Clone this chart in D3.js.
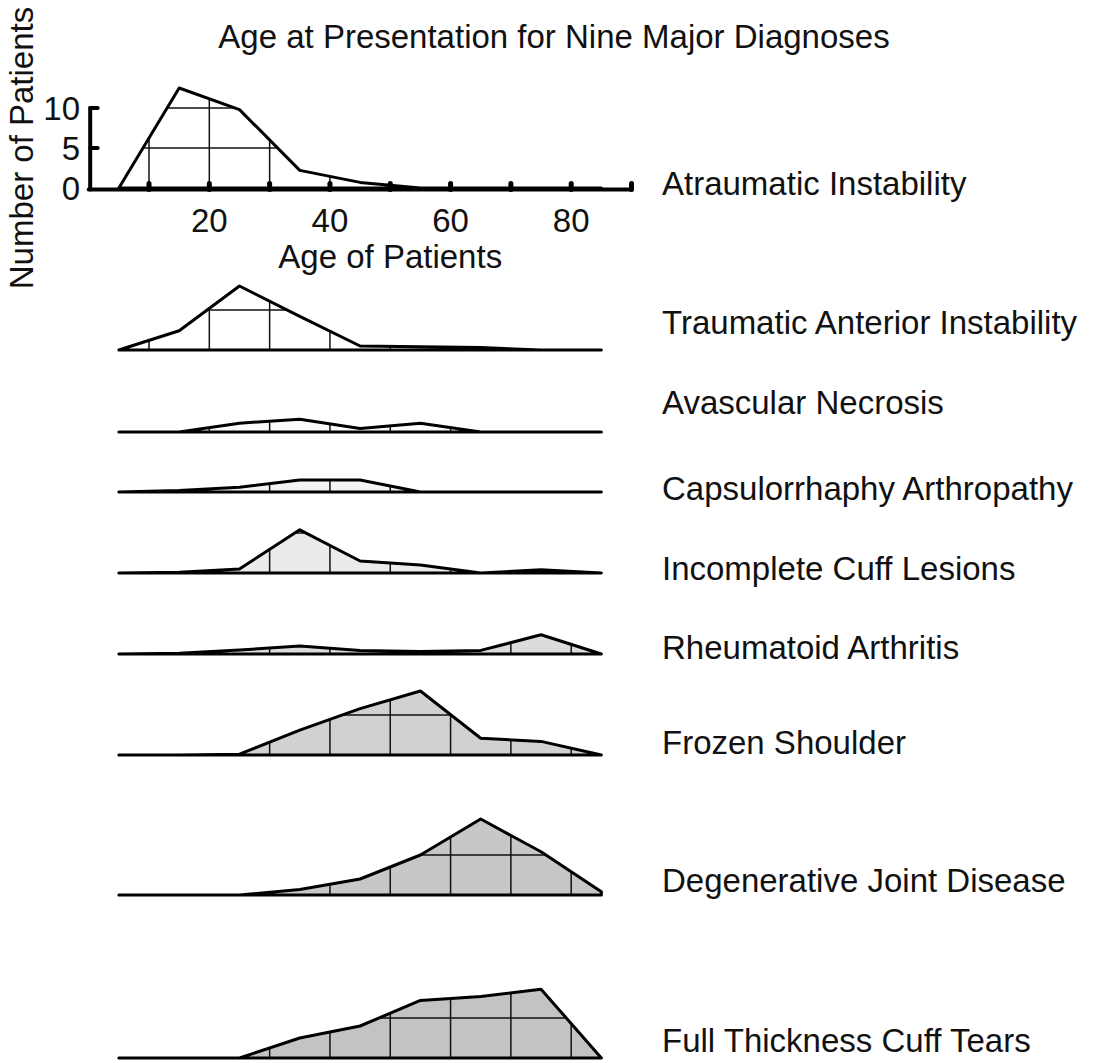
<!DOCTYPE html>
<html lang="en">
<head>
    <meta charset="UTF-8">
    <title>Age at Presentation for Nine Major Diagnoses</title>
    <style>
        body {
            margin: 0;
            background: #ffffff;
        }
        svg {
            display: block;
            font-family: "Liberation Sans", Arial, Helvetica, sans-serif;
        }
        text {
            font-size: 33px;
            fill: #111;
        }
        .grid line {
            stroke: #111;
            stroke-width: 1.5px;
        }
        .shape {
            stroke: #000;
            stroke-width: 3px;
            stroke-linejoin: round;
        }
        .axis-line {
            stroke: #000;
            stroke-width: 4px;
            stroke-linecap: round;
            fill: none;
        }
        .tick-mark {
            stroke: #000;
            stroke-width: 5px;
            stroke-linecap: round;
        }
    </style>
</head>
<body>
<div id="chart"></div>

<script src="https://d3js.org/d3.v7.min.js"></script>
<script>
    // age bin midpoints (years)
    const ages = [5, 15, 25, 35, 45, 55, 65, 75, 85];

    // number of patients per age bin
    const diagnoses = [
        "Atraumatic Instability",
        "Traumatic Anterior Instability",
        "Avascular Necrosis",
        "Capsulorrhaphy Arthropathy",
        "Incomplete Cuff Lesions",
        "Rheumatoid Arthritis",
        "Frozen Shoulder",
        "Degenerative Joint Disease",
        "Full Thickness Cuff Tears"
    ];
    const atraumatic      = [0, 12.5, 9.8, 2.2, 0.7, 0, 0, 0, 0];
    const traumatic       = [0, 2.4, 8.0, 4.2, 0.5, 0.4, 0.3, 0, 0];
    const avascular       = [0, 0, 1.1, 1.6, 0.45, 1.1, 0, 0, 0];
    const capsulorrhaphy  = [0, 0.2, 0.6, 1.5, 1.5, 0, 0, 0, 0];
    const incompleteCuff  = [0, 0.1, 0.5, 5.4, 1.5, 1.0, 0, 0.4, 0];
    const rheumatoid      = [0, 0.1, 0.5, 1.0, 0.45, 0.3, 0.45, 2.4, 0];
    const frozen          = [0, 0, 0.1, 3.1, 5.8, 8.0, 2.1, 1.7, 0];
    const degenerative    = [0, 0, 0, 0.7, 2.0, 5.0, 9.5, 5.4, 0.4];
    const fullThickness   = [0, 0, 0, 2.5, 4.0, 7.2, 7.7, 8.6, 0];
    const series = [atraumatic, traumatic, avascular, capsulorrhaphy, incompleteCuff,
                    rheumatoid, frozen, degenerative, fullThickness];

    const xTicks = [10, 20, 30, 40, 50, 60, 70, 80, 90];
    const xTickLabels = [20, 40, 60, 80];
    const yTicks = [0, 5, 10];

    // layout: baseline of each row and where its label sits relative to it
    const rowBaseline = [188, 350, 432, 492, 573, 654, 755, 895, 1058];
    const labelOffset = [-5, -28, -30, -4, -5, -7, -13, -15, -18];
    const fills = ["#ffffff", "#ffffff", "#fbfbfb", "#f4f4f4", "#ebebeb",
                   "#dcdcdc", "#d1d1d1", "#c7c7c7", "#c3c3c3"];

    const width = 1093;
    const height = 1063;

    const svg = d3.select("#chart")
        .append("svg")
        .attr("width", width)
        .attr("height", height);

    const x = d3.scaleLinear().domain([0, 90]).range([88.7, 631.5]);
    const unit = 8; // pixels per patient
    const y = d3.scaleLinear().domain([0, 10]).range([0, -10 * unit]);

    // title
    svg.append("text")
        .attr("x", 554)
        .attr("y", 48)
        .attr("text-anchor", "middle")
        .text("Age at Presentation for Nine Major Diagnoses");

    series.forEach((vals, i) => {
        const pts = ages.map((a, j) => ({age: a, n: vals[j]}));
        const g = svg.append("g")
            .attr("transform", `translate(0,${rowBaseline[i]})`);

        const area = d3.area()
            .x(d => x(d.age))
            .y0(y(0))
            .y1(d => y(d.n));

        const clipId = "clip" + i;
        g.append("clipPath")
            .attr("id", clipId)
            .append("path")
            .attr("d", area(pts));

        g.append("path")
            .attr("d", area(pts))
            .attr("fill", fills[i]);

        const maxN = d3.max(vals);
        const grid = g.append("g")
            .attr("class", "grid")
            .attr("clip-path", `url(#${clipId})`);
        grid.selectAll(".v")
            .data(xTicks.slice(0, -1))
            .enter().append("line")
            .attr("x1", d => x(d)).attr("x2", d => x(d))
            .attr("y1", y(0)).attr("y2", y(maxN));
        grid.selectAll(".h")
            .data(yTicks.filter(t => t > 0 && t < maxN))
            .enter().append("line")
            .attr("x1", x(0)).attr("x2", x(90))
            .attr("y1", d => y(d)).attr("y2", d => y(d));

        g.append("path")
            .attr("class", "shape")
            .attr("d", area(pts))
            .attr("fill", "none");

        svg.append("text")
            .attr("x", 662)
            .attr("y", rowBaseline[i] + labelOffset[i])
            .attr("dy", "0.35em")
            .text(diagnoses[i]);
    });

    // axes for the first row
    const axisG = svg.append("g")
        .attr("transform", `translate(0,${rowBaseline[0] + 1.5})`);

    axisG.append("line")
        .attr("class", "axis-line")
        .attr("x1", x(0)).attr("x2", x(90))
        .attr("y1", 0).attr("y2", 0);
    axisG.selectAll(".xt")
        .data(xTicks)
        .enter().append("line")
        .attr("class", "tick-mark")
        .attr("x1", d => x(d)).attr("x2", d => x(d))
        .attr("y1", 0).attr("y2", -6);
    axisG.selectAll(".xl")
        .data(xTickLabels)
        .enter().append("text")
        .attr("x", d => x(d))
        .attr("y", 42)
        .attr("text-anchor", "middle")
        .text(d => d);
    axisG.append("text")
        .attr("x", x(50))
        .attr("y", 78)
        .attr("text-anchor", "middle")
        .text("Age of Patients");

    axisG.append("line")
        .attr("class", "axis-line")
        .attr("x1", x(0) + 1.5).attr("x2", x(0) + 1.5)
        .attr("y1", 0).attr("y2", y(10) - 1.5);
    axisG.selectAll(".yt")
        .data(yTicks.filter(t => t > 0))
        .enter().append("line")
        .attr("class", "axis-line")
        .attr("x1", x(0) + 1.5).attr("x2", x(0) + 9)
        .attr("y1", d => y(d) - 1.5).attr("y2", d => y(d) - 1.5);
    axisG.selectAll(".yl")
        .data(yTicks)
        .enter().append("text")
        .attr("x", 80)
        .attr("y", d => y(d) - 1.5)
        .attr("dy", "0.35em")
        .attr("text-anchor", "end")
        .text(d => d);

    svg.append("text")
        .attr("transform", "translate(33,148) rotate(-90)")
        .attr("text-anchor", "middle")
        .text("Number of Patients");
</script>
</body>
</html>
